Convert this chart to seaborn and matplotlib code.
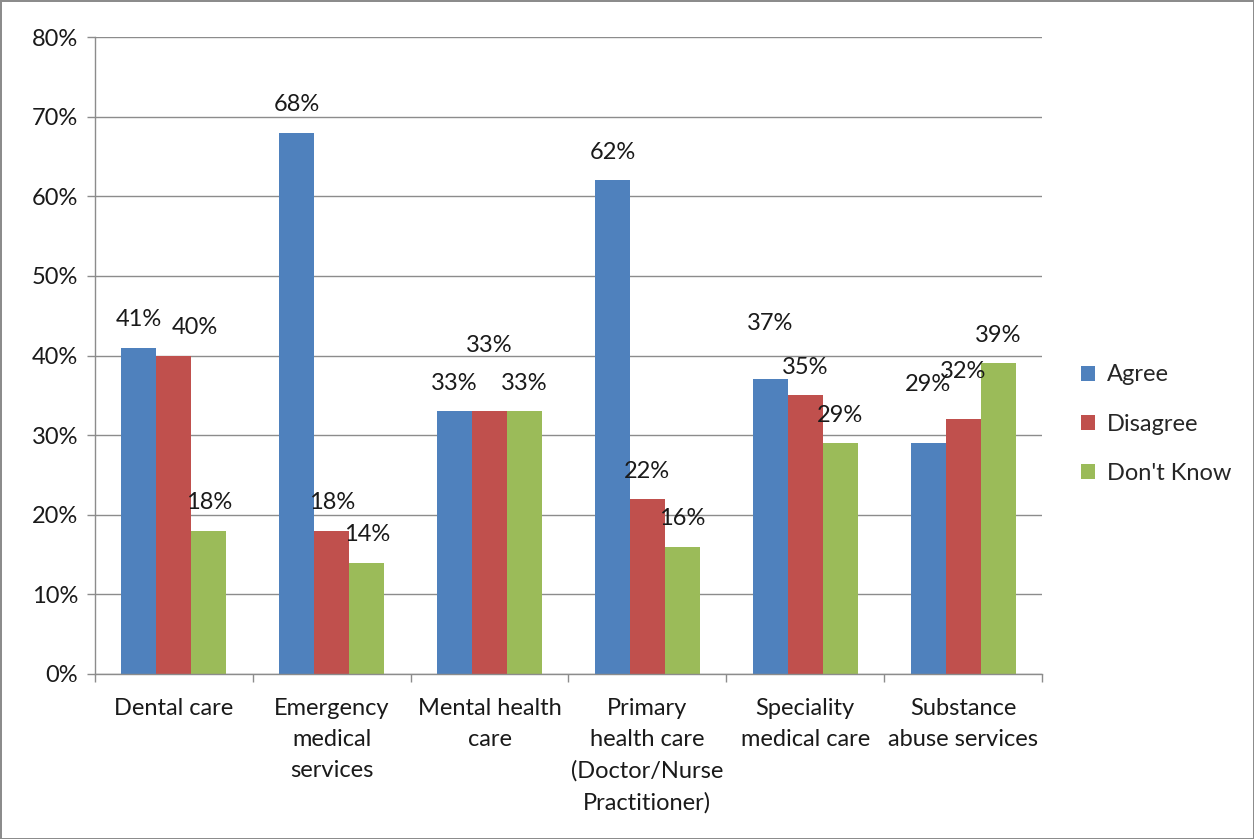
import matplotlib
matplotlib.use("Agg")
import matplotlib.pyplot as plt
import seaborn as sns
import pandas as pd
from matplotlib.ticker import FixedLocator, NullFormatter

categories = ["Dental care", "Emergency\nmedical\nservices", "Mental health\ncare",
              "Primary\nhealth care\n(Doctor/Nurse\nPractitioner)", "Speciality\nmedical care",
              "Substance\nabuse services"]
series = ["Agree", "Disagree", "Don't Know"]
agree = [41, 68, 33, 62, 37, 29]
disagree = [40, 18, 33, 22, 35, 32]
dont_know = [18, 14, 33, 16, 29, 39]
colors = ["#4F81BD", "#C0504D", "#9BBB59"]

rows = []
for s, vals in zip(series, [agree, disagree, dont_know]):
    for c, v in zip(categories, vals):
        rows.append({"category": c, "series": s, "value": v})
df = pd.DataFrame(rows)

sns.set_theme(style="white")
plt.rcParams["font.family"] = ["Lato", "DejaVu Sans"]
FS = 17
TXT = "#1a1a1a"

fig = plt.figure(figsize=(12.54, 8.39), dpi=100, edgecolor="#8c8c8c", linewidth=2)
ax = fig.add_axes([95/1254, 1-674/839, (1042-95)/1254, (674-37)/839])

sns.barplot(data=df, x="category", y="value", hue="series", hue_order=series,
            order=categories, palette=colors, width=0.665, saturation=1,
            edgecolor="none", ax=ax, legend=True)

ax.set_ylim(0, 80)
ax.set_xlim(-0.5, 5.5)
ax.set_yticks(range(0, 81, 10))
ax.set_yticklabels([f"{v}%" for v in range(0, 81, 10)], fontsize=FS, color=TXT)
ax.grid(axis="y", color="#8c8c8c", linewidth=1)
ax.set_axisbelow(True)
ax.set_xlabel("")
ax.set_ylabel("")
ax.tick_params(axis="x", which="major", length=0, pad=17, labelsize=FS, labelcolor=TXT)
ax.xaxis.set_minor_locator(FixedLocator([i - 0.5 for i in range(7)]))
ax.xaxis.set_minor_formatter(NullFormatter())
ax.tick_params(axis="x", which="minor", length=6, color="#8c8c8c", width=1, bottom=True)
ax.tick_params(axis="y", length=6, color="#8c8c8c", width=1, left=True, pad=6)
for lab in ax.get_xticklabels():
    lab.set_linespacing(1.6)
for side in ["top", "right"]:
    ax.spines[side].set_visible(False)
for side in ["left", "bottom"]:
    ax.spines[side].set_color("#8c8c8c")
    ax.spines[side].set_linewidth(1)

# label placement nudges (points), Excel-like auto placement
nudges = {(1, 0): (15, 20), (1, 2): (0, 47), (0, 4): (0, 40), (0, 5): (0, 42), (1, 5): (0, 34)}
for si, cont in enumerate(ax.containers):
    for ci, (bar, v) in enumerate(zip(cont.patches, cont.datavalues)):
        dx, dy = nudges.get((si, ci), (0, 20))
        ax.annotate(f"{v:.0f}%", (bar.get_x() + bar.get_width() / 2, bar.get_height()),
                    xytext=(dx, dy), textcoords="offset points", ha="center", va="center",
                    fontsize=FS, color=TXT)

handles, labels = ax.get_legend_handles_labels()
ax.legend(handles, labels, loc="center left", bbox_to_anchor=(1.019, 0.392), frameon=False,
          fontsize=FS, handlelength=0.6, handleheight=0.6, labelspacing=1.2, handletextpad=0.5)

fig.savefig("out.png", dpi=100, edgecolor=fig.get_edgecolor())
